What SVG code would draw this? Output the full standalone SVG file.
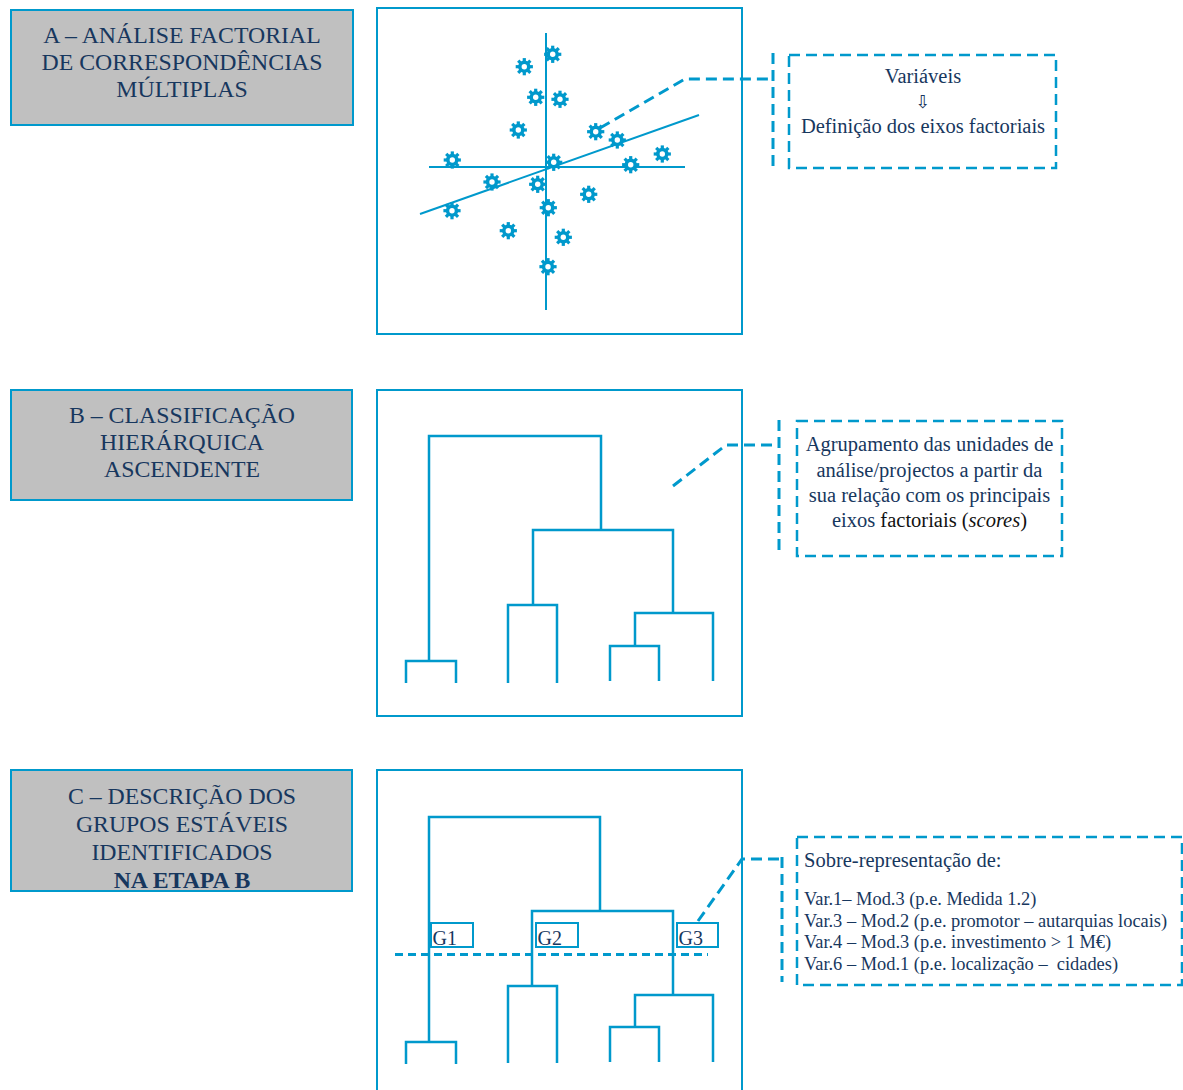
<svg xmlns="http://www.w3.org/2000/svg" width="1183" height="1090" viewBox="0 0 1183 1090">
<style>
.lbl{fill:#c0c0c0;stroke:#0099cc;stroke-width:2}
.pan{fill:#ffffff;stroke:#0099cc;stroke-width:2}
.ln{fill:none;stroke:#0099cc;stroke-width:2.5}
.ax{fill:none;stroke:#0099cc;stroke-width:2}
.dash{fill:none;stroke:#0099cc;stroke-width:3;stroke-dasharray:11 6}
.dbox{fill:#ffffff;stroke:#0099cc;stroke-width:2.5;stroke-dasharray:11 6}
.gbox{fill:#ffffff;stroke:#0099cc;stroke-width:2}
.t{font-family:"Liberation Serif","Times New Roman",serif;fill:#17375e}
.h{font-size:23.8px;text-anchor:middle}
.c{font-size:20.5px;text-anchor:middle}
.s{font-size:18.4px}
</style>
<defs>
<g id="gear">
<circle r="6.2" fill="#0099cc"/>
<rect x="-1.6" y="-8.6" width="3.2" height="17.2" fill="#0099cc"/>
<rect x="-1.6" y="-8.6" width="3.2" height="17.2" fill="#0099cc" transform="rotate(45)"/>
<rect x="-1.6" y="-8.6" width="3.2" height="17.2" fill="#0099cc" transform="rotate(90)"/>
<rect x="-1.6" y="-8.6" width="3.2" height="17.2" fill="#0099cc" transform="rotate(135)"/>
<circle r="2.7" fill="#ffffff"/>
</g>
</defs>
<rect width="1183" height="1090" fill="#ffffff"/>

<g id="labelA">
<rect class="lbl" x="11" y="10" width="342" height="115"/>
<text class="t h" x="182" y="43">A – ANÁLISE FACTORIAL</text>
<text class="t h" x="182" y="70">DE CORRESPONDÊNCIAS</text>
<text class="t h" x="182" y="97">MÚLTIPLAS</text>
</g>
<g id="labelB">
<rect class="lbl" x="11" y="390" width="341" height="110"/>
<text class="t h" x="182" y="423">B – CLASSIFICAÇÃO</text>
<text class="t h" x="182" y="450">HIERÁRQUICA</text>
<text class="t h" x="182" y="477">ASCENDENTE</text>
</g>
<g id="labelC">
<rect class="lbl" x="11" y="770" width="341" height="121"/>
<text class="t h" x="182" y="804">C – DESCRIÇÃO DOS</text>
<text class="t h" x="182" y="832">GRUPOS ESTÁVEIS</text>
<text class="t h" x="182" y="860">IDENTIFICADOS</text>
<text class="t h" x="182" y="888" font-weight="bold">NA ETAPA B</text>
</g>

<g id="panelA">
<rect class="pan" x="377" y="8" width="365" height="326"/>
<line class="ax" x1="546" y1="33" x2="546" y2="310"/>
<line class="ax" x1="429" y1="167" x2="685" y2="167"/>
<line class="ax" x1="420" y1="214" x2="699" y2="115"/>
<use href="#gear" x="552.7" y="54.3"/>
<use href="#gear" x="524.3" y="66.7"/>
<use href="#gear" x="535.7" y="97.3"/>
<use href="#gear" x="560" y="99.3"/>
<use href="#gear" x="518.3" y="130"/>
<use href="#gear" x="595.7" y="131.7"/>
<use href="#gear" x="617.3" y="140"/>
<use href="#gear" x="662.3" y="154"/>
<use href="#gear" x="452.3" y="160"/>
<use href="#gear" x="553.7" y="162.3"/>
<use href="#gear" x="630.7" y="164.7"/>
<use href="#gear" x="492" y="182"/>
<use href="#gear" x="537.7" y="184.3"/>
<use href="#gear" x="588.7" y="194.3"/>
<use href="#gear" x="548.3" y="207.7"/>
<use href="#gear" x="452" y="210.7"/>
<use href="#gear" x="508.3" y="230.7"/>
<use href="#gear" x="563.3" y="237.3"/>
<use href="#gear" x="548" y="266.7"/>
</g>

<g id="panelB">
<rect class="pan" x="377" y="390" width="365" height="326"/>
<polyline class="ln" points="429,660 429,436 601,436 601,530"/>
<polyline class="ln" points="406,683 406,661 456,661 456,683"/>
<polyline class="ln" points="533,605 533,530 673,530 673,613"/>
<polyline class="ln" points="508,683 508,605 557,605 557,683"/>
<polyline class="ln" points="635,646 635,613 713,613 713,681"/>
<polyline class="ln" points="610,681 610,646 659,646 659,681"/>
</g>

<g id="panelC">
<rect class="pan" x="377" y="770" width="365" height="330"/>
<polyline class="ln" points="429,1041 429,817 600,817 600,911"/>
<polyline class="ln" points="406,1064 406,1042 456,1042 456,1064"/>
<polyline class="ln" points="532,986 532,911 673,911 673,995"/>
<polyline class="ln" points="508,1063 508,986 557,986 557,1063"/>
<polyline class="ln" points="635,1027 635,995 713,995 713,1062"/>
<polyline class="ln" points="610,1062 610,1027 659,1027 659,1062"/>
<line x1="395" y1="954.5" x2="708" y2="954.5" fill="none" stroke="#0099cc" stroke-width="3" stroke-dasharray="8 5"/>
</g>
<g id="g1"><rect class="gbox" x="431" y="923" width="42" height="24"/><text class="t" x="432.5" y="945" font-size="20px">G1</text></g>
<g id="g2"><rect class="gbox" x="536" y="923" width="42" height="24"/><text class="t" x="537.5" y="945" font-size="20px">G2</text></g>
<g id="g3"><rect class="gbox" x="677" y="923" width="41" height="24"/><text class="t" x="678.5" y="945" font-size="20px">G3</text></g>

<g id="calloutA">
<rect class="dbox" x="789" y="55" width="267" height="113"/>
<text class="t c" x="923" y="83">Variáveis</text>
<text x="923" y="108" font-family="DejaVu Sans,sans-serif" font-size="18px" fill="#17375e" text-anchor="middle">⇩</text>
<text class="t c" x="923" y="133">Definição dos eixos factoriais</text>
</g>
<g id="calloutB">
<rect class="dbox" x="797" y="421" width="265" height="135"/>
<text class="t c" x="929.5" y="451">Agrupamento das unidades de</text>
<text class="t c" x="929.5" y="476.5">análise/projectos a partir da</text>
<text class="t c" x="929.5" y="501.5">sua relação com os principais</text>
<text class="t c" x="929.5" y="526.5">eixos <tspan fill="#111111">factoriais (<tspan font-style="italic">scores</tspan>)</tspan></text>
</g>
<g id="calloutC">
<rect class="dbox" x="797" y="837" width="385" height="148"/>
<text class="t" x="804" y="867" font-size="20.5px">Sobre-representação de:</text>
<text class="t s" x="804" y="905">Var.1– Mod.3 (p.e. Medida 1.2)</text>
<text class="t s" x="804" y="926.5">Var.3 – Mod.2 (p.e. promotor – autarquias locais)</text>
<text class="t s" x="804" y="948">Var.4 – Mod.3 (p.e. investimento &gt; 1 M€)</text>
<text class="t s" x="804" y="970">Var.6 – Mod.1 (p.e. localização – &#160;cidades)</text>
</g>

<g id="connectors">
<polyline class="dash" points="600,128 685,79 773,79"/>
<line class="dash" x1="773" y1="53" x2="773" y2="168"/>
<polyline class="dash" points="673,486 726,445 779,445"/>
<line class="dash" x1="779" y1="420" x2="779" y2="556"/>
<polyline class="dash" points="698,921 742,859 782,859"/>
<line class="dash" x1="782" y1="857" x2="782" y2="982"/>
</g>
</svg>
